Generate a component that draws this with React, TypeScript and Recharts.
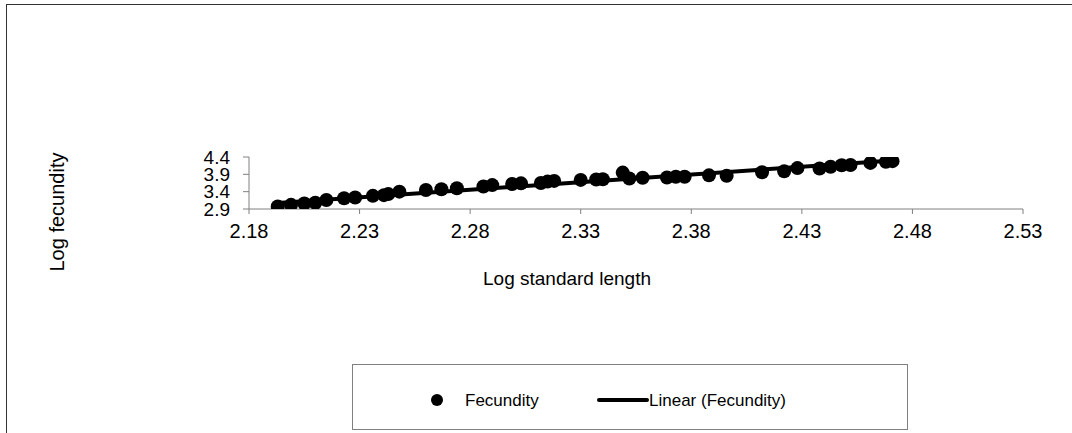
import React from 'react';
import {
  ScatterChart,
  Scatter,
  XAxis,
  YAxis,
} from 'recharts';

// Log standard length (x) and log fecundity (y)
const logLength = [
  2.193, 2.199, 2.205, 2.21, 2.215, 2.223, 2.228, 2.236, 2.241, 2.243,
  2.248, 2.26, 2.267, 2.274, 2.286, 2.29, 2.299, 2.303, 2.312, 2.315,
  2.318, 2.33, 2.337, 2.34, 2.349, 2.352, 2.358, 2.369, 2.373, 2.377,
  2.388, 2.396, 2.412, 2.422, 2.428, 2.438, 2.443, 2.448, 2.452, 2.461,
  2.468, 2.471,
];
const logFecundity = [
  2.97, 3.02, 3.06, 3.08, 3.16, 3.21, 3.23, 3.28, 3.3, 3.33,
  3.4, 3.45, 3.47, 3.5, 3.55, 3.59, 3.62, 3.64, 3.65, 3.69,
  3.71, 3.74, 3.75, 3.76, 3.95, 3.78, 3.8, 3.81, 3.83, 3.83,
  3.87, 3.86, 3.96, 3.99, 4.08, 4.07, 4.12, 4.16, 4.17, 4.23,
  4.26, 4.28,
];

// Linear trendline end points
const trendX = [2.193, 2.471];
const trendY = [3.07, 4.3];

const xTicks = [2.18, 2.23, 2.28, 2.33, 2.38, 2.43, 2.48, 2.53];
const yTicks = [2.9, 3.4, 3.9, 4.4];

const points = logLength.map((x, i) => ({ x, y: logFecundity[i] }));
const trend = trendX.map((x, i) => ({ x, y: trendY[i] }));

const font = '"Liberation Sans", Arial, sans-serif';

const Dot = (props: any) => {
  const { cx, cy } = props;
  if (cx == null || cy == null) return null;
  return <circle cx={cx} cy={cy} r={7} fill="#000" />;
};

const NoDot = () => null;

const LegendBox = () => (
  <div
    style={{
      position: 'absolute',
      left: 352,
      top: 364,
      width: 556,
      height: 66,
      border: '1px solid #808080',
      boxSizing: 'border-box',
    }}
  >
    <svg width={556} height={66} style={{ position: 'absolute', left: -1, top: -1 }}>
      <circle cx={85} cy={36} r={6} fill="#000" />
      <text x={113} y={42} fontSize={17} fontFamily={font}>Fecundity</text>
      <line x1={247} x2={295} y1={36} y2={36} stroke="#000" strokeWidth={4} strokeLinecap="round" />
      <text x={297} y={42} fontSize={17} fontFamily={font}>Linear (Fecundity)</text>
    </svg>
  </div>
);

export default function App() {
  return (
    <div
      style={{
        position: 'absolute',
        left: 0,
        top: 0,
        width: 1072,
        height: 433,
        background: '#fff',
        overflow: 'hidden',
        fontFamily: font,
      }}
    >
      {/* outer frame, cropped by the picture edge */}
      <div
        style={{
          position: 'absolute',
          left: 6,
          top: 4,
          width: 1100,
          height: 500,
          borderTop: '1px solid #333',
          borderLeft: '1px solid #333',
        }}
      />
      <ScatterChart
        width={1072}
        height={433}
        margin={{ top: 157, right: 49, bottom: 194, left: 189 }}
        style={{ position: 'absolute', left: 0, top: 0 }}
      >
        <XAxis
          type="number"
          dataKey="x"
          domain={[2.18, 2.53]}
          ticks={xTicks}
          interval={0}
          allowDataOverflow
          height={30}
          stroke="#808080"
          tickSize={5}
          tickMargin={10}
          tick={{ fill: '#000', fontSize: 20, fontFamily: font }}
          tickFormatter={(v: number) => v.toFixed(2)}
          label={{
            content: () => (
              <text x={567} y={285} textAnchor="middle" fontSize={19} fontFamily={font} fill="#000">
                Log standard length
              </text>
            ),
          }}
        />
        <YAxis
          type="number"
          dataKey="y"
          domain={[2.9, 4.4]}
          ticks={yTicks}
          interval={0}
          allowDataOverflow
          width={60}
          stroke="#808080"
          tickSize={6}
          tickMargin={13}
          tick={{ fill: '#000', fontSize: 19, fontFamily: font }}
          tickFormatter={(v: number) => v.toFixed(1)}
          label={{
            content: () => (
              <text
                x={64}
                y={212}
                textAnchor="middle"
                fontSize={20}
                fontFamily={font}
                fill="#000"
                transform="rotate(-90 64 212)"
              >
                Log fecundity
              </text>
            ),
          }}
        />
        <Scatter
          name="Linear (Fecundity)"
          data={trend}
          line={{ stroke: '#000', strokeWidth: 4 }}
          shape={<NoDot />}
          isAnimationActive={false}
        />
        <Scatter
          name="Fecundity"
          data={points}
          shape={<Dot />}
          isAnimationActive={false}
        />
      </ScatterChart>
      <LegendBox />
    </div>
  );
}
